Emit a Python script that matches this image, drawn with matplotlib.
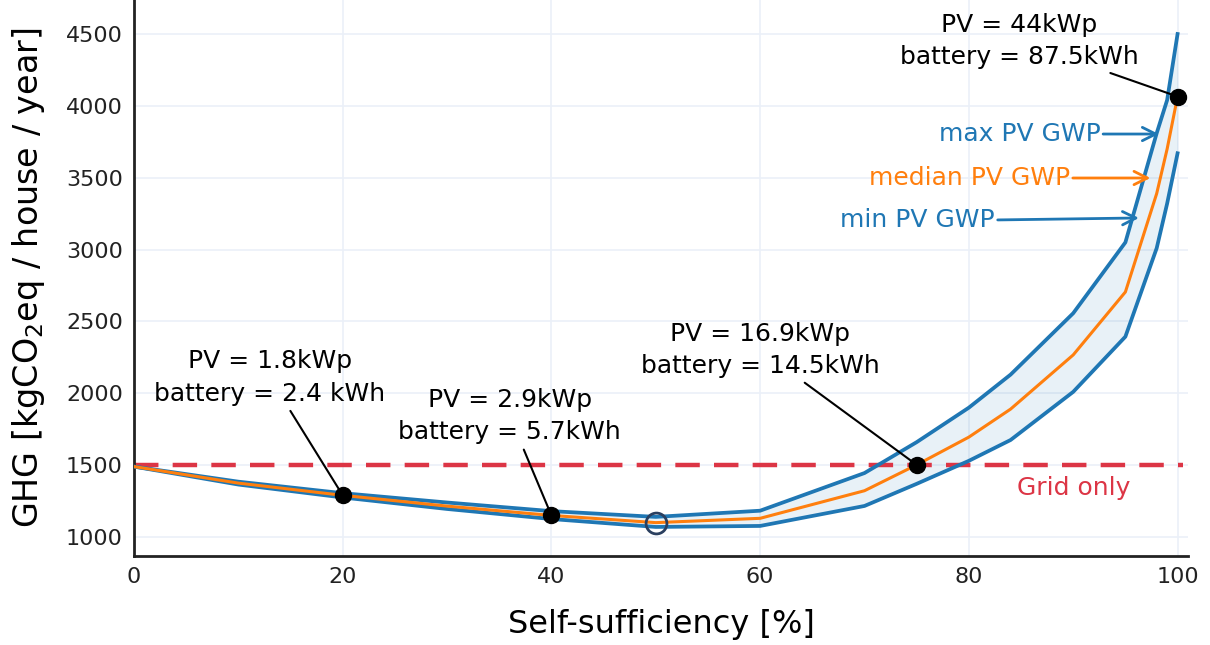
#!/usr/bin/env python3
import matplotlib
matplotlib.use("Agg")
import matplotlib.pyplot as plt

# self-sufficiency [%] and GHG [kgCO2eq / house / year]
self_suff = [0, 10, 20, 30, 40, 50, 60, 70, 75, 80, 84, 90, 95, 98, 99, 100]
ghg_max = [1490, 1385, 1305, 1240, 1180, 1140, 1183, 1445, 1660, 1900, 2130, 2557, 3050, 3810, 4040, 4500]
ghg_median = [1490, 1375, 1290, 1215, 1150, 1100, 1130, 1322, 1502, 1695, 1890, 2267, 2705, 3390, 3700, 4065]
ghg_min = [1490, 1365, 1275, 1195, 1125, 1070, 1077, 1216, 1370, 1530, 1675, 2010, 2394, 3010, 3320, 3670]

grid_only = 1500

# highlighted configurations: (self-sufficiency, GHG, label)
configs_x = [20, 40, 75, 100]
configs_y = [1290, 1150, 1502, 4065]
configs_label = [
    "PV = 1.8kWp\nbattery = 2.4 kWh",
    "PV = 2.9kWp\nbattery = 5.7kWh",
    "PV = 16.9kWp\nbattery = 14.5kWh",
    "PV = 44kWp\nbattery = 87.5kWh",
]
configs_text_pos = [(13.0, 2110), (36.0, 1842), (60.0, 2301), (84.8, 4451)]

optimum_x, optimum_y = 50, 1100

BLUE = "#1f77b4"
ORANGE = "#ff7f0e"
RED = "#dc3545"
GRID = "#ebf0f8"

plt.rcParams["font.family"] = ["DejaVu Sans"]

fig = plt.figure(figsize=(12.1, 6.45), dpi=100)
ax = fig.add_axes([134 / 1210, 1 - 556 / 645, (1188 - 134) / 1210, 556 / 645])

ax.fill_between(self_suff, ghg_min, ghg_max, color=BLUE, alpha=0.1, lw=0, zorder=1)
ax.plot(self_suff, ghg_max, color=BLUE, lw=2.7, zorder=3)
ax.plot(self_suff, ghg_min, color=BLUE, lw=2.7, zorder=3)
ax.plot(self_suff, ghg_median, color=ORANGE, lw=2.2, zorder=4)

ax.plot([0, 100.5], [grid_only, grid_only], color=RED, lw=3.2, ls=(0, (5.5, 3.2)), zorder=2)
ax.text(90.0, 1341, "Grid only", color=RED, fontsize=18, ha="center", va="center")

ax.plot(configs_x, configs_y, "o", color="black", ms=11.5, zorder=6)
ax.plot([optimum_x], [optimum_y], "o", mfc="none", mec="#2a3f5f", mew=2, ms=15, zorder=6)

for x, y, label, (tx, ty) in zip(configs_x, configs_y, configs_label, configs_text_pos):
    ax.annotate(label, xy=(x, y), xytext=(tx, ty), ha="center", va="center",
                fontsize=18, linespacing=1.45, zorder=7,
                arrowprops=dict(arrowstyle="-", color="black", lw=1.5,
                                shrinkA=2, shrinkB=0))

# curve labels with arrows
for text, color, tx, ty, ax_x, ax_y in [
    ("max PV GWP", BLUE, 92.6, 3804, 98.2, 3804),
    ("median PV GWP", ORANGE, 89.7, 3498, 97.4, 3498),
    ("min PV GWP", BLUE, 82.5, 3206, 96.3, 3220),
]:
    ax.annotate(text, xy=(ax_x, ax_y), xytext=(tx, ty), ha="right", va="center",
                fontsize=18, color=color, zorder=7,
                arrowprops=dict(arrowstyle="->", color=color, lw=2,
                                mutation_scale=24, shrinkA=0, shrinkB=0,
                                relpos=(1.0, 0.5)))

ax.set_xlim(0, 101)
ax.set_ylim(867.8, 4736.6)
ax.set_xticks([0, 20, 40, 60, 80, 100])
ax.set_yticks([1000, 1500, 2000, 2500, 3000, 3500, 4000, 4500])
ax.tick_params(length=0, labelsize=16, pad=8, colors="#222222")
ax.grid(True, color=GRID, lw=1.2, zorder=0)
ax.set_axisbelow(True)

for side in ("top", "right"):
    ax.spines[side].set_visible(False)
for side in ("left", "bottom"):
    ax.spines[side].set_linewidth(2)
    ax.spines[side].set_color("#222222")

ax.set_xlabel("Self-sufficiency [%]", fontsize=23)
ax.set_ylabel(r"GHG [kgCO$_2$eq / house / year]", fontsize=24)
ax.xaxis.set_label_coords(0.5, -0.095)
ax.yaxis.set_label_coords(-0.083, 0.5)

fig.savefig("out.png", dpi=100)
